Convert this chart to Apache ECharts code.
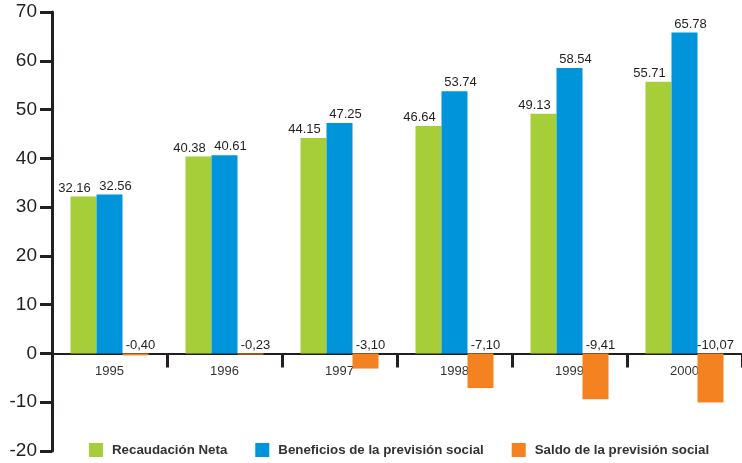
<!DOCTYPE html>
<html>
<head>
<meta charset="utf-8">
<script src="https://cdn.jsdelivr.net/npm/echarts@6/dist/echarts.min.js"></script>
<style>
  html, body { margin: 0; padding: 0; background: #fff; }
  #chart { width: 742px; height: 463px; }
</style>
</head>
<body>
<div id="chart"></div>
<script>
// Years on the category axis
const years = ['1995', '1996', '1997', '1998', '1999', '2000'];
// Series values
const recaudacionNeta = [32.16, 40.38, 44.15, 46.64, 49.13, 55.71];
const beneficiosPrevision = [32.56, 40.61, 47.25, 53.74, 58.54, 65.78];
const saldoPrevision = [-0.40, -0.23, -3.10, -7.10, -9.41, -10.07];
// Value axis range
const yMin = -20, yMax = 70, yStep = 10;

const FONT = '"Liberation Sans", Arial, Helvetica, sans-serif';
const INK = '#231f20';

const GRID_TOP = 12, GRID_BOTTOM = 12, HEIGHT = 463;
// Lift the category axis (line, ticks and year labels) up to the zero level
const plotH = HEIGHT - GRID_TOP - GRID_BOTTOM;
const zeroLift = plotH * (0 - yMin) / (yMax - yMin);

const chart = echarts.init(document.getElementById('chart'), null, { renderer: 'canvas' });

function barLabel(offset, fmt) {
  return {
    show: true,
    position: 'top',
    distance: 2,
    offset: offset,
    color: INK,
    fontFamily: FONT,
    fontSize: 13,
    formatter: fmt
  };
}

chart.setOption({
  animation: false,
  backgroundColor: '#fff',
  grid: { left: 52, right: 0, top: GRID_TOP, bottom: GRID_BOTTOM, containLabel: false, outerBoundsMode: 'none' },
  legend: {
    left: 89,
    bottom: 6,
    padding: 0,
    itemWidth: 14,
    itemHeight: 14,
    itemGap: 28,
    icon: 'rect',
    textStyle: { fontFamily: FONT, fontSize: 13.3, fontWeight: 'bold', color: '#333', padding: [0, 0, 0, 4] },
    data: ['Recaudación Neta', 'Beneficios de la previsión social', 'Saldo de la previsión social']
  },
  xAxis: {
    type: 'category',
    data: years,
    offset: -zeroLift,
    axisLine: { onZero: false, lineStyle: { color: INK, width: 2 } },
    axisTick: { show: true, length: 14, lineStyle: { color: INK, width: 3 } },
    axisLabel: { color: '#333', fontFamily: FONT, fontSize: 13, margin: 11 },
    splitLine: { show: false }
  },
  yAxis: {
    type: 'value',
    min: yMin,
    max: yMax,
    interval: yStep,
    axisLine: { show: true, lineStyle: { color: INK, width: 3 } },
    axisTick: { show: true, length: 12, lineStyle: { color: INK, width: 3 } },
    axisLabel: { color: INK, fontFamily: FONT, fontSize: 19, margin: 15 },
    splitLine: { show: false }
  },
  series: [
    {
      name: 'Recaudación Neta',
      type: 'bar',
      data: recaudacionNeta,
      barWidth: 26,
      barGap: '0%',
      itemStyle: { color: '#a6ce39' },
      label: barLabel([-9, 0], p => p.value.toFixed(2))
    },
    {
      name: 'Beneficios de la previsión social',
      type: 'bar',
      data: beneficiosPrevision,
      barWidth: 26,
      barGap: '0%',
      itemStyle: { color: '#0095da' },
      label: barLabel([6, 0], p => p.value.toFixed(2))
    },
    {
      name: 'Saldo de la previsión social',
      type: 'bar',
      data: saldoPrevision,
      barWidth: 26,
      barGap: '0%',
      itemStyle: { color: '#f58220' },
      label: barLabel([5, 0], p => p.value.toFixed(2).replace('.', ','))
    }
  ]
});
</script>
</body>
</html>
